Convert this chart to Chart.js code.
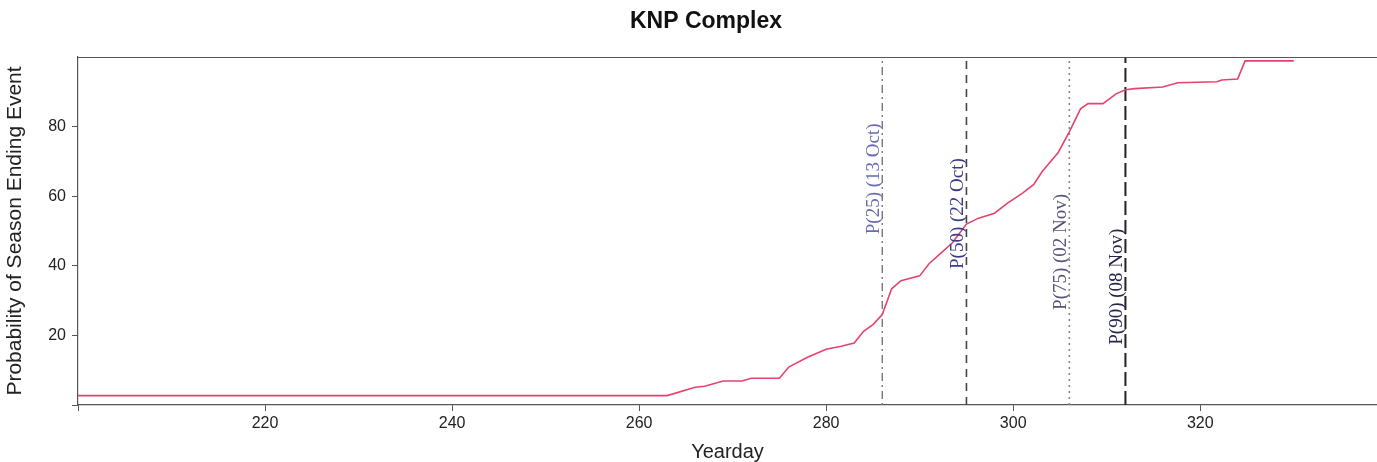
<!DOCTYPE html>
<html>
<head>
<meta charset="utf-8">
<title>KNP Complex</title>
<script src="https://cdn.jsdelivr.net/npm/chart.js@4.4.1/dist/chart.umd.min.js"></script>
<style>
  html, body { margin: 0; padding: 0; background: #fff; }
  #wrap { width: 1377px; height: 462px; position: relative; }
</style>
</head>
<body>
<div id="wrap"><canvas id="seasonChart"></canvas></div>
<script>
// yearday / probability readings of the cumulative curve
const days = [200, 263, 266, 267, 269, 271, 272, 275, 276, 278, 280, 281.6, 283, 284, 285, 286,
  287, 288, 290, 291, 292.3, 293.5, 295, 296.3, 298, 299.4, 301, 302.2, 303.1, 304, 304.8,
  306, 307.2, 308, 309.6, 311, 312, 313, 316, 317.6, 321.8, 322.3, 324, 324.8, 330];
const probs = [2.7, 2.7, 5.1, 5.4, 6.9, 6.9, 7.7, 7.7, 10.9, 13.7, 16, 16.9, 17.8, 21.2, 23.1, 26,
  33.4, 35.7, 37.1, 40.6, 43.7, 46.6, 52, 53.7, 55.1, 58, 60.9, 63.4, 67.1, 70, 72.5,
  78.5, 85.1, 86.6, 86.6, 89.4, 90.6, 90.9, 91.4, 92.6, 92.9, 93.4, 93.7, 98.9, 98.9];

// percentile markers
const qLabels = ["P(25) (13 Oct)", "P(50) (22 Oct)", "P(75) (02 Nov)", "P(90) (08 Nov)"];
const qDays = [286, 295, 306, 312];
const qLabelAt = [65, 55, 44, 34];

const xTicks = [200, 220, 240, 260, 280, 300, 320];
const yTicks = [0, 20, 40, 60, 80];

const qStyles = [
  { dash: [2, 4, 8, 4], line: "#777", text: "#6a6ab4", width: 1.4 },
  { dash: [8, 6], line: "#444", text: "#3b3b88", width: 1.6 },
  { dash: [2, 4], line: "#888", text: "#55557a", width: 1.6 },
  { dash: [14, 5], line: "#222", text: "#26264c", width: 2 },
];

const curve = days.map((d, i) => ({ x: d, y: probs[i] }));

const datasets = [
  {
    label: "Probability",
    data: curve,
    borderColor: "#e6426e",
    borderWidth: 1.6,
    pointRadius: 0,
    tension: 0,
    fill: false,
  },
];
qDays.forEach((d, i) => {
  datasets.push({
    label: qLabels[i],
    data: [{ x: d, y: 0 }, { x: d, y: 100 }],
    borderColor: qStyles[i].line,
    borderWidth: qStyles[i].width,
    borderDash: qStyles[i].dash,
    pointRadius: 0,
    fill: false,
  });
});

const extras = {
  id: "extras",
  afterDraw(chart) {
    const { ctx, chartArea, scales } = chart;
    ctx.save();
    // top frame line
    ctx.strokeStyle = "#555";
    ctx.lineWidth = 1.2;
    ctx.beginPath();
    ctx.moveTo(chartArea.left, chartArea.top + 0.5);
    ctx.lineTo(chartArea.right, chartArea.top + 0.5);
    ctx.stroke();

    // percentile labels, rotated
    ctx.font = "19px 'Liberation Serif', 'Times New Roman', serif";
    ctx.textAlign = "center";
    ctx.textBaseline = "middle";
    qDays.forEach((d, i) => {
      const px = scales.x.getPixelForValue(d) - 8;
      const py = scales.y.getPixelForValue(qLabelAt[i]);
      ctx.save();
      ctx.translate(px, py);
      ctx.rotate(-Math.PI / 2);
      ctx.fillStyle = qStyles[i].text;
      ctx.fillText(qLabels[i], 0, 0);
      ctx.restore();
    });

    // main title
    ctx.font = "bold 23px 'Liberation Sans', Arial, sans-serif";
    ctx.fillStyle = "#111";
    ctx.fillText("KNP Complex", 706, 22);
    ctx.restore();
  },
};

const tickFont = { family: "'Liberation Sans', Arial, sans-serif", size: 16 };

new Chart(document.getElementById("seasonChart").getContext("2d"), {
  type: "line",
  data: { datasets: datasets },
  options: {
    responsive: true,
    maintainAspectRatio: false,
    animation: false,
    layout: { padding: { top: 57, left: 0, right: 0, bottom: 0 } },
    plugins: {
      legend: { display: false },
      tooltip: { enabled: false },
      title: { display: false },
    },
    scales: {
      x: {
        type: "linear",
        min: 200,
        max: 338.9,
        afterBuildTicks: (s) => { s.ticks = xTicks.map((v) => ({ value: v })); },
        afterFit: (s) => { s.height = 57; },
        ticks: {
          font: tickFont,
          color: "#222",
          padding: 3,
          maxRotation: 0,
          autoSkip: false,
          callback: (v) => (v === 200 ? "" : v),
        },
        grid: { drawOnChartArea: false, drawTicks: true, tickLength: 6, color: "#555" },
        border: { display: true, color: "#555", width: 1.2 },
        title: {
          display: true,
          text: "Yearday",
          font: { family: "'Liberation Sans', Arial, sans-serif", size: 20, lineHeight: 1 },
          color: "#222",
          padding: { top: 0, bottom: 0 },
        },
      },
      y: {
        min: 0,
        max: 100,
        afterBuildTicks: (s) => { s.ticks = yTicks.map((v) => ({ value: v })); },
        afterFit: (s) => { s.width = 78; },
        ticks: {
          font: tickFont,
          color: "#222",
          padding: 6,
          callback: (v) => (v === 0 ? "" : v),
        },
        grid: { drawOnChartArea: false, drawTicks: true, tickLength: 6, color: "#555" },
        border: { display: true, color: "#555", width: 1.2 },
        title: {
          display: true,
          text: "Probability of Season Ending Event",
          font: { family: "'Liberation Sans', Arial, sans-serif", size: 21, lineHeight: 1 },
          color: "#222",
          padding: { top: 5, bottom: 0 },
        },
      },
    },
  },
  plugins: [extras],
});
</script>
</body>
</html>
